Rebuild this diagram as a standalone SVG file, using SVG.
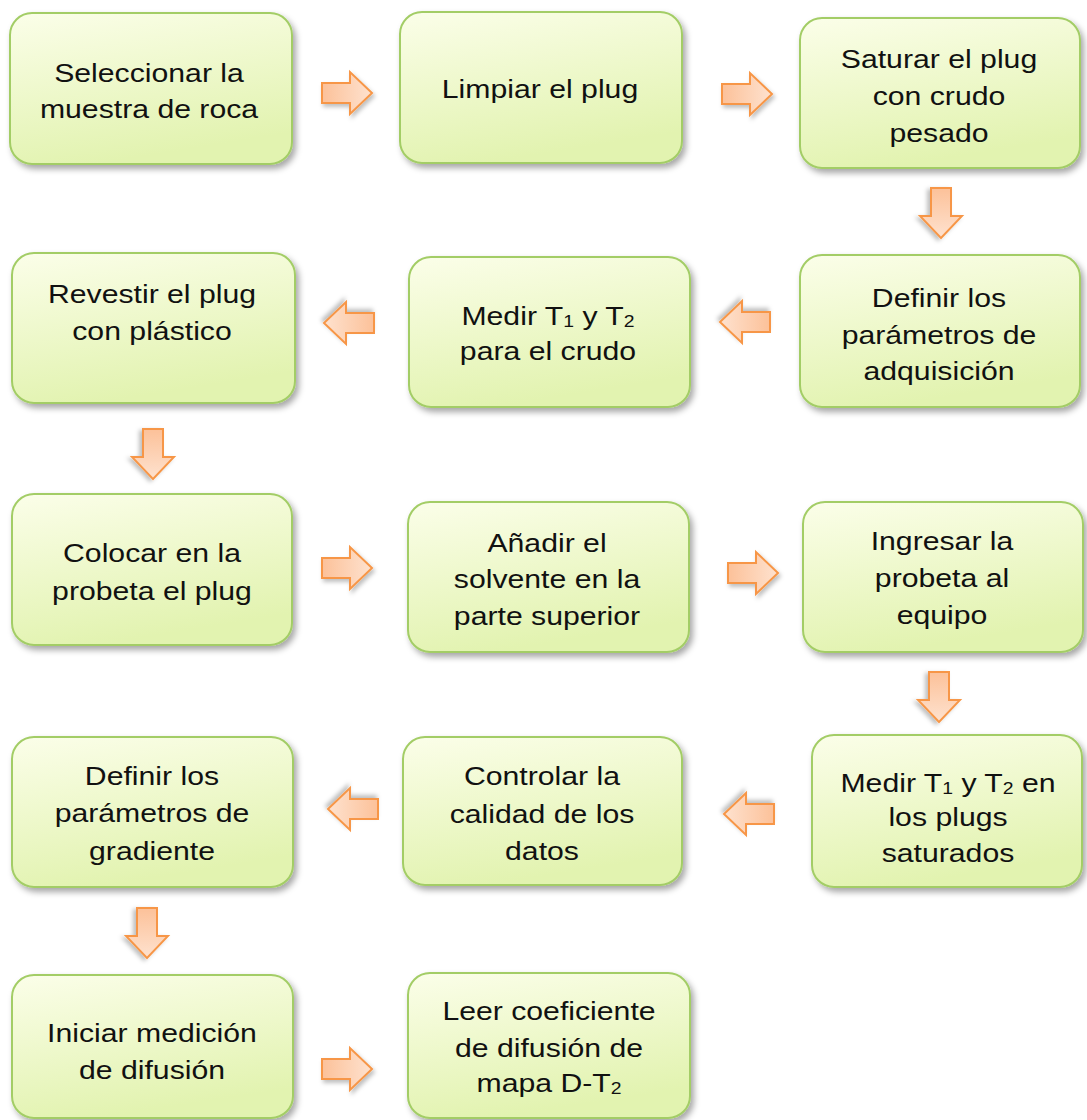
<svg xmlns="http://www.w3.org/2000/svg" width="1087" height="1120" viewBox="0 0 1087 1120">
<defs>
<linearGradient id="boxFill" x1="0" y1="0" x2="0.3" y2="1">
<stop offset="0" stop-color="#fbfee9"/>
<stop offset="1" stop-color="#e2f3b0"/>
</linearGradient>
<linearGradient id="arrowFill" x1="0" y1="0" x2="1" y2="0">
<stop offset="0" stop-color="#fcc199"/>
<stop offset="1" stop-color="#fee2cf"/>
</linearGradient>
<filter id="shadow" x="-10%" y="-10%" width="125%" height="130%">
<feDropShadow dx="3" dy="4" stdDeviation="3" flood-color="#000" flood-opacity="0.35"/>
</filter>
<filter id="ashadow" x="-20%" y="-20%" width="150%" height="150%">
<feDropShadow dx="2" dy="3" stdDeviation="2" flood-color="#000" flood-opacity="0.25"/>
</filter>
<path id="arrow" d="M-25,-10 H3 V-21 L25,0 L3,21 V10 H-25 Z"/>
</defs>
<style>
.box{fill:url(#boxFill);stroke:#a3cd66;stroke-width:2;filter:url(#shadow)}
.arr{fill:url(#arrowFill);stroke:#f79646;stroke-width:2;filter:url(#ashadow)}
text{font-family:"Liberation Sans",Arial,sans-serif;font-size:26.5px;fill:#111;text-anchor:middle}
.sub{font-size:17px}
</style>

<g id="connectors">
<use href="#arrow" class="arr" transform="translate(347,93)"/>
<use href="#arrow" class="arr" transform="translate(747,94)"/>
<use href="#arrow" class="arr" transform="translate(941,213) rotate(90)"/>
<use href="#arrow" class="arr" transform="translate(349,323) rotate(180)"/>
<use href="#arrow" class="arr" transform="translate(745,322) rotate(180)"/>
<use href="#arrow" class="arr" transform="translate(153,454) rotate(90)"/>
<use href="#arrow" class="arr" transform="translate(347,568)"/>
<use href="#arrow" class="arr" transform="translate(753,573)"/>
<use href="#arrow" class="arr" transform="translate(939,697) rotate(90)"/>
<use href="#arrow" class="arr" transform="translate(353,809) rotate(180)"/>
<use href="#arrow" class="arr" transform="translate(749,814) rotate(180)"/>
<use href="#arrow" class="arr" transform="translate(147,933) rotate(90)"/>
<use href="#arrow" class="arr" transform="translate(347,1069)"/>
</g>

<g id="n1">
<rect class="box" x="10" y="13" width="282" height="151" rx="22"/>
<g transform="translate(149,0) scale(1.14,1)"><text x="0" y="82">Seleccionar la</text><text x="0" y="118">muestra de roca</text></g>
</g>
<g id="n2">
<rect class="box" x="400" y="12" width="282" height="151" rx="22"/>
<g transform="translate(540,0) scale(1.14,1)"><text x="0" y="98">Limpiar el plug</text></g>
</g>
<g id="n3">
<rect class="box" x="800" y="18" width="280" height="150" rx="22"/>
<g transform="translate(939,0) scale(1.14,1)"><text x="0" y="68">Saturar el plug</text><text x="0" y="105">con crudo</text><text x="0" y="142">pesado</text></g>
</g>
<g id="n4">
<rect class="box" x="12" y="253" width="283" height="150" rx="22"/>
<g transform="translate(152,0) scale(1.14,1)"><text x="0" y="303">Revestir el plug</text><text x="0" y="340">con plástico</text></g>
</g>
<g id="n5">
<rect class="box" x="409" y="257" width="281" height="150" rx="22"/>
<g transform="translate(548,0) scale(1.14,1)"><text x="0" y="325">Medir T<tspan class="sub" dy="2">1</tspan><tspan dy="-2"> y T</tspan><tspan class="sub" dy="2">2</tspan></text><text x="0" y="360">para el crudo</text></g>
</g>
<g id="n6">
<rect class="box" x="800" y="255" width="280" height="152" rx="22"/>
<g transform="translate(939,0) scale(1.14,1)"><text x="0" y="307">Definir los</text><text x="0" y="344">parámetros de</text><text x="0" y="380">adquisición</text></g>
</g>
<g id="n7">
<rect class="box" x="12" y="494" width="280" height="151" rx="22"/>
<g transform="translate(152,0) scale(1.14,1)"><text x="0" y="562">Colocar en la</text><text x="0" y="600">probeta el plug</text></g>
</g>
<g id="n8">
<rect class="box" x="408" y="502" width="281" height="150" rx="22"/>
<g transform="translate(547,0) scale(1.14,1)"><text x="0" y="552">Añadir el</text><text x="0" y="588">solvente en la</text><text x="0" y="625">parte superior</text></g>
</g>
<g id="n9">
<rect class="box" x="803" y="502" width="280" height="150" rx="22"/>
<g transform="translate(942,0) scale(1.14,1)"><text x="0" y="550">Ingresar la</text><text x="0" y="587">probeta al</text><text x="0" y="624">equipo</text></g>
</g>
<g id="n10">
<rect class="box" x="12" y="737" width="281" height="150" rx="22"/>
<g transform="translate(152,0) scale(1.14,1)"><text x="0" y="785">Definir los</text><text x="0" y="822">parámetros de</text><text x="0" y="860">gradiente</text></g>
</g>
<g id="n11">
<rect class="box" x="403" y="737" width="279" height="148" rx="22"/>
<g transform="translate(542,0) scale(1.14,1)"><text x="0" y="785">Controlar la</text><text x="0" y="823">calidad de los</text><text x="0" y="860">datos</text></g>
</g>
<g id="n12">
<rect class="box" x="812" y="735" width="270" height="152" rx="22"/>
<g transform="translate(948,0) scale(1.14,1)"><text x="0" y="792">Medir T<tspan class="sub" dy="2">1</tspan><tspan dy="-2"> y T</tspan><tspan class="sub" dy="2">2</tspan><tspan dy="-2"> en</tspan></text><text x="0" y="826">los plugs</text><text x="0" y="862">saturados</text></g>
</g>
<g id="n13">
<rect class="box" x="12" y="975" width="281" height="143" rx="22"/>
<g transform="translate(152,0) scale(1.14,1)"><text x="0" y="1042">Iniciar medición</text><text x="0" y="1079">de difusión</text></g>
</g>
<g id="n14">
<rect class="box" x="408" y="973" width="282" height="145" rx="22"/>
<g transform="translate(549,0) scale(1.14,1)"><text x="0" y="1020">Leer coeficiente</text><text x="0" y="1057">de difusión de</text><text x="0" y="1092">mapa D-T<tspan class="sub" dy="2">2</tspan></text></g>
</g>
</svg>
